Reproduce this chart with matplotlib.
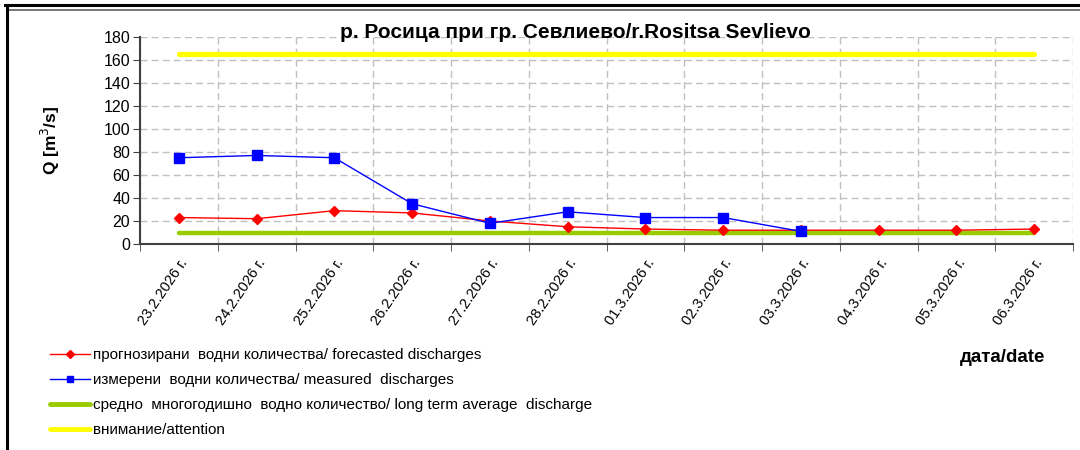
import matplotlib
matplotlib.use("Agg")
import matplotlib.pyplot as plt
from matplotlib.lines import Line2D
import numpy as np

plt.rcParams['font.family'] = ['Liberation Sans', 'DejaVu Sans']

dates = ["23.2.2026 г.", "24.2.2026 г.", "25.2.2026 г.", "26.2.2026 г.",
         "27.2.2026 г.", "28.2.2026 г.", "01.3.2026 г.", "02.3.2026 г.",
         "03.3.2026 г.", "04.3.2026 г.", "05.3.2026 г.", "06.3.2026 г."]
forecast = [23, 22, 29, 27, 20, 15, 13, 12, 12, 12, 12, 13]
measured = [75, 77, 75, 35, 18, 28, 23, 23, 11]
average = [10] * 12
attention = [165] * 12

title = "р. Росица при гр. Севлиево/r.Rositsa Sevlievo"
lbl_fc = "прогнозирани  водни количества/ forecasted discharges"
lbl_ms = "измерени  водни количества/ measured  discharges"
lbl_avg = "средно  многогодишно  водно количество/ long term average  discharge"
lbl_att = "внимание/attention"

fig = plt.figure(figsize=(10.8, 4.5), dpi=100)
W, H = 1080, 450
ax = fig.add_axes([140 / W, 1 - 244 / H, (1073 - 140) / W, (244 - 37) / H])

x = np.arange(len(dates))
ax.plot(x, attention, color='#FFFF00', lw=3.8, solid_capstyle='round', zorder=3)
ax.plot(x, average, color='#99CC00', lw=3.2, solid_capstyle='round', zorder=3)
ax.plot(x, forecast, color='#FF0000', lw=1.0, marker='D', ms=5.5, zorder=4)
ax.plot(np.arange(len(measured)), measured, color='#0000FF', lw=1.0, marker='s', ms=7.5, zorder=5)

ax.set_xlim(-0.5, len(dates) - 0.5)
ax.set_ylim(0, 180)
ax.set_yticks(np.arange(0, 181, 20))
ax.set_xticks(x)
ax.set_xticklabels(dates, rotation=56, ha='right', va='top', rotation_mode='anchor', fontsize=10.5)
ax.tick_params(axis='x', which='major', length=0, pad=9)
ax.set_xticks(np.arange(-0.5, len(dates), 1), minor=True)
ax.tick_params(axis='x', which='minor', length=5, direction='out', color='#404040')
ax.tick_params(axis='y', labelsize=11.5, length=5, color='#404040', pad=2)

ax.grid(True, which='minor', axis='x', color='#C0C0C0', ls=(0, (5, 3)), lw=1.0)
ax.grid(True, which='major', axis='y', color='#C0C0C0', ls=(0, (5, 3)), lw=1.0)
ax.set_axisbelow(True)

for s in ['top', 'right']:
    ax.spines[s].set_visible(False)
for s in ['left', 'bottom']:
    ax.spines[s].set_color('#404040')
    ax.spines[s].set_linewidth(1.5)

ax.set_ylabel("Q [m$^3$/s]", fontsize=12.5, fontweight='bold')
ax.yaxis.set_label_coords(62 / W, 1 - 140 / H, transform=fig.transFigure)

fig.text(575 / W, 1 - 32 / H, title, ha='center', va='center', fontsize=15, fontweight='bold')
fig.text(1003 / W, 1 - 357 / H, "дата/date", ha='center', va='center', fontsize=13.5, fontweight='bold')

handles = [
    Line2D([], [], color='#FF0000', lw=1.0, marker='D', ms=4),
    Line2D([], [], color='#0000FF', lw=1.0, marker='s', ms=5),
    Line2D([], [], color='#99CC00', lw=3.5, solid_capstyle='round'),
    Line2D([], [], color='#FFFF00', lw=3.5, solid_capstyle='round'),
]
fig.legend(handles, [lbl_fc, lbl_ms, lbl_avg, lbl_att], loc='upper left',
           bbox_to_anchor=(50 / W, 1 - 348 / H), frameon=False, fontsize=11,
           handlelength=2.6, handletextpad=0.2, labelspacing=0.72, borderpad=0,
           borderaxespad=0)

# outer frame lines
fig.add_artist(Line2D([5 / W, 1], [1 - 5 / H, 1 - 5 / H], transform=fig.transFigure, color='black', lw=2.2))
fig.add_artist(Line2D([8 / W, 1], [1 - 10 / H, 1 - 10 / H], transform=fig.transFigure, color='#606060', lw=1.2))
fig.add_artist(Line2D([7 / W, 7 / W], [0, 1 - 5 / H], transform=fig.transFigure, color='black', lw=2.2))

fig.savefig("out.png", dpi=100)
